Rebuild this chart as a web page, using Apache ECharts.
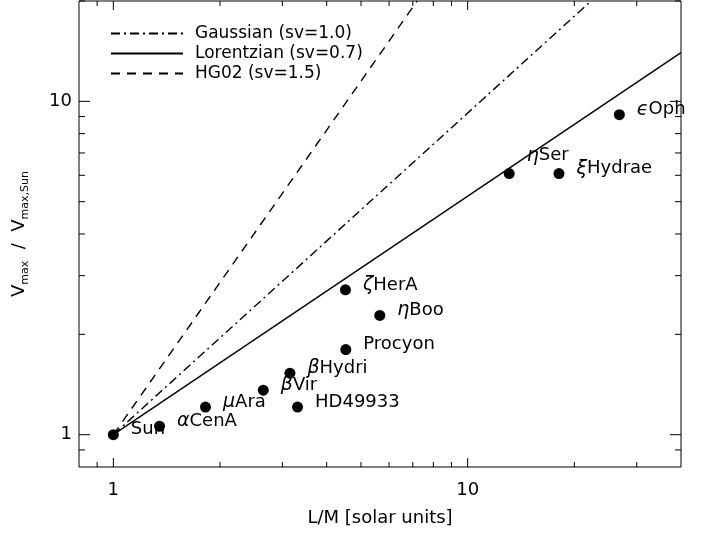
<!DOCTYPE html>
<html>
<head>
<meta charset="utf-8">
<script src="https://cdn.jsdelivr.net/npm/echarts@6/dist/echarts.min.js"></script>
<style>html,body{margin:0;padding:0;background:#fff;}#c{width:710px;height:536px;}</style>
</head>
<body>
<div id="c"></div>
<script>
// ---- data ----
const starNames = ['Sun', 'αCenA', 'μAra', 'βVir', 'βHydri', 'HD49933', 'Procyon', 'ζHerA', 'ηBoo', 'ηSer', 'ξHydrae', 'ϵOph'];
const starLM    = [1.0, 1.35, 1.82, 2.65, 3.15, 3.31, 4.53, 4.52, 5.65, 13.1, 18.1, 26.8];
const starVmax  = [1.0, 1.06, 1.21, 1.36, 1.53, 1.21, 1.80, 2.72, 2.28, 6.07, 6.07, 9.12];

const modelNames = ['Gaussian (sv=1.0)', 'Lorentzian (sv=0.7)', 'HG02 (sv=1.5)'];
const gaussianLine   = [[1, 1], [22.3, 20]];
const lorentzianLine = [[1, 1], [40, 14.0]];
const hg02Line       = [[1, 1], [7.2, 20]];

const xTickLabels = [1, 10];
const yTickLabels = [1, 10];
const xMinorTicks = [0.9, 2, 3, 4, 5, 6, 7, 8, 9, 20, 30];
const yMinorTicks = [0.9, 2, 3, 4, 5, 6, 7, 8, 9, 20];

// ---- styles ----
const FONT = 'DejaVu Sans';
const INK = '#000';
const labelOffsets = { 'ηSer': [0, -18] };
const isGreek = ch => /[\u0370-\u03FF]/.test(ch);

const tickData = []
  .concat(xTickLabels.map(v => [v, 1, 0, 1]))
  .concat(xMinorTicks.map(v => [v, 1, 0, 0]))
  .concat(yTickLabels.map(v => [1, v, 1, 1]))
  .concat(yMinorTicks.map(v => [1, v, 1, 0]));

const chart = echarts.init(document.getElementById('c'), null, { renderer: 'canvas' });

function tickRender(params, api) {
  const cs = params.coordSys;
  const kind = api.value(2), major = api.value(3);
  const st = { stroke: INK, lineWidth: 1 };
  if (kind === 0) {
    const len = major ? 9 : 5;
    const px = api.coord([api.value(0), 1])[0];
    const b = cs.y + cs.height, t = cs.y;
    return { type: 'group', children: [
      { type: 'line', shape: { x1: px, y1: b, x2: px, y2: b - len }, style: st },
      { type: 'line', shape: { x1: px, y1: t, x2: px, y2: t + len }, style: st }
    ]};
  } else {
    const len = major ? 11 : 6;
    const py = api.coord([1, api.value(1)])[1];
    const l = cs.x, r = cs.x + cs.width;
    return { type: 'group', children: [
      { type: 'line', shape: { x1: l, y1: py, x2: l + len, y2: py }, style: st },
      { type: 'line', shape: { x1: r, y1: py, x2: r - len, y2: py }, style: st }
    ]};
  }
}

const lineStyles = [
  { color: INK, width: 1.4, type: [9, 4, 2, 4] },
  { color: INK, width: 1.4, type: 'solid' },
  { color: INK, width: 1.4, type: [9, 7] }
];
const lineData = [gaussianLine, lorentzianLine, hg02Line];

const option = {
  animation: false,
  backgroundColor: '#fff',
  textStyle: { fontFamily: FONT, color: INK },
  grid: { left: 79, right: 29, top: 1, bottom: 69, show: true, borderColor: INK, borderWidth: 1, backgroundColor: 'transparent' },
  legend: {
    data: modelNames,
    orient: 'vertical',
    left: 110, top: 25,
    padding: 0,
    itemWidth: 72, itemHeight: 16, itemGap: 3,
    itemStyle: { opacity: 0, borderWidth: 0 },
    textStyle: { fontFamily: FONT, fontSize: 17, lineHeight: 16, color: INK, padding: [0, 0, 0, 7] },
    selectedMode: false
  },
  xAxis: {
    type: 'log', logBase: 10, min: 0.8, max: 40,
    axisLine: { show: false }, axisTick: { show: false }, splitLine: { show: false }, minorTick: { show: false },
    axisLabel: { customValues: xTickLabels, fontFamily: FONT, fontSize: 18, color: INK, margin: 14, formatter: v => String(Math.round(v)) },
    name: 'L/M [solar units]', nameLocation: 'middle', nameGap: 42,
    nameTextStyle: { fontFamily: FONT, fontSize: 18, color: INK }
  },
  yAxis: {
    type: 'log', logBase: 10, min: 0.8, max: 20,
    axisLine: { show: false }, axisTick: { show: false }, splitLine: { show: false }, minorTick: { show: false },
    axisLabel: { customValues: yTickLabels, fontFamily: FONT, fontSize: 18, color: INK, margin: 7, formatter: v => String(Math.round(v)) },
    name: '{v|V}{s|max}{v|  /  V}{s|max,Sun}', nameLocation: 'middle', nameGap: 48, nameRotate: 90,
    nameTextStyle: {
      fontFamily: FONT, color: INK,
      rich: {
        v: { fontFamily: FONT, fontSize: 18, lineHeight: 24, color: INK },
        s: { fontFamily: FONT, fontSize: 11, lineHeight: 12, verticalAlign: 'bottom', color: INK }
      }
    }
  },
  series: [
    {
      type: 'custom', coordinateSystem: 'cartesian2d', renderItem: tickRender,
      data: tickData, silent: true, clip: false, z: 5
    }
  ].concat(lineData.map((d, i) => ({
    name: modelNames[i], type: 'line', data: d, symbol: 'none', showSymbol: false,
    lineStyle: lineStyles[i], itemStyle: { color: INK }, clip: true, silent: true, z: 3
  }))).concat([
    {
      type: 'scatter', name: 'stars', symbol: 'circle', symbolSize: 11,
      itemStyle: { color: '#000', opacity: 1 }, z: 4,
      data: starNames.map((n, i) => {
        const item = { name: n, value: [starLM[i], starVmax[i]] };
        if (labelOffsets[n]) item.label = { offset: labelOffsets[n] };
        return item;
      }),
      label: {
        show: true, position: 'right', distance: 12, offset: [0, -5], opacity: 1,
        fontFamily: FONT, fontSize: 18, color: INK,
        formatter: p => {
          const n = p.name;
          return isGreek(n[0]) ? '{g|' + n[0] + '}{t|' + n.slice(1) + '}' : '{t|' + n + '}';
        },
        rich: {
          g: { fontFamily: FONT, fontSize: 19, fontStyle: 'italic', color: INK },
          t: { fontFamily: FONT, fontSize: 18, color: INK }
        }
      }
    }
  ])
};
chart.setOption(option);
</script>
</body>
</html>
